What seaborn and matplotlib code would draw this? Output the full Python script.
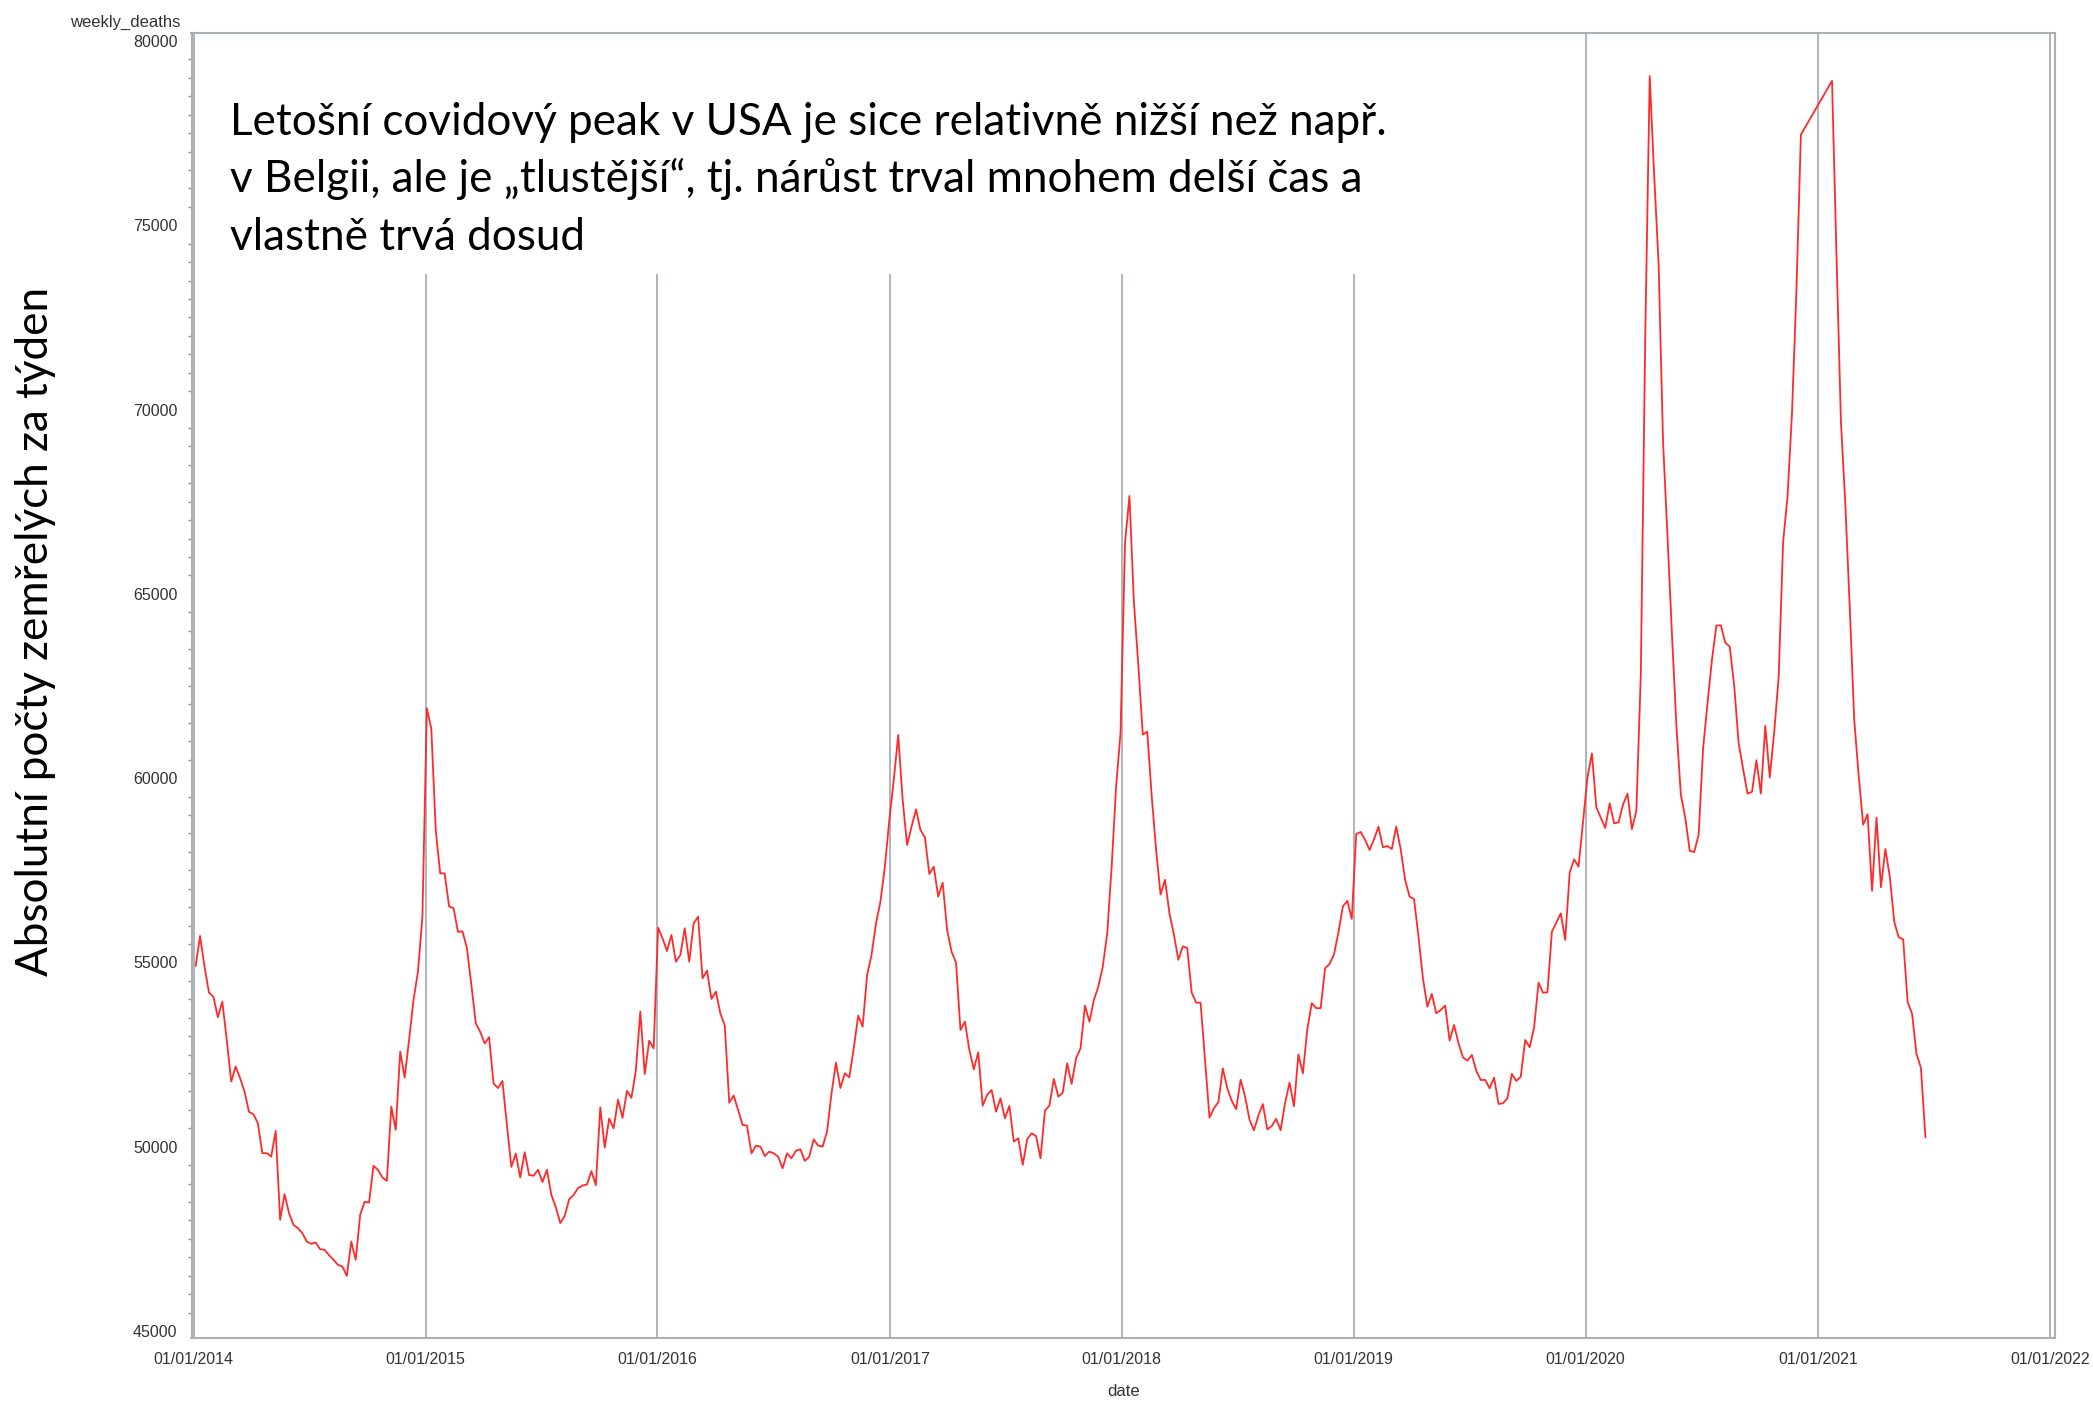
import numpy as np
import pandas as pd
import matplotlib
matplotlib.use("Agg")
import matplotlib.pyplot as plt
import matplotlib.dates as mdates
from matplotlib.ticker import MultipleLocator, FixedLocator
from matplotlib.patches import Rectangle
import seaborn as sns

# ---------------- data (weekly deaths) ----------------
start_2014 = "2014-01-04"
deaths_2014 = [54906, 55720, 54890, 54183, 54074, 53514, 53939, 52899, 51769, 52176,
               51860, 51498, 50947, 50883, 50639, 49826, 49826, 49735, 50431, 48018,
               48714, 48199, 47882, 47792, 47656, 47430, 47367, 47403, 47222, 47204,
               47059, 46933, 46797, 46752, 46499, 47430, 46933, 48154, 48506, 48488,
               49482, 49374, 49166, 49075, 51091, 50459, 52583, 51878, 52899, 53984,
               54752, 56244]
start_2015 = "2015-01-03"
deaths_2015 = [61898, 61346, 58587, 57417, 57417, 56522, 56475, 55828, 55847, 55400,
               54400, 53354, 53116, 52802, 52973, 51717, 51593, 51784, 50594, 49453,
               49814, 49167, 49852, 49233, 49215, 49376, 49043, 49376, 48691, 48359,
               47930, 48121, 48577, 48691, 48882, 48948, 48977, 49338, 48958, 51070,
               49976, 50766, 50499, 51280, 50785, 51517, 51327, 52069, 53668, 51974,
               52878, 52669]
start_2016 = "2016-01-02"
deaths_2016 = [55945, 55655, 55312, 55746, 55023, 55203, 55927, 55023, 56062, 56243,
               54570, 54778, 54010, 54209, 53621, 53286, 51197, 51387, 50998, 50591,
               50573, 49823, 50030, 50004, 49750, 49868, 49823, 49732, 49416, 49823,
               49687, 49895, 49931, 49615, 49732, 50202, 50030, 50004, 50411, 51450,
               52282, 51595, 51993, 51885, 52671, 53558, 53259, 54661, 55203, 56062,
               56650, 57600, 58866]
start_2017 = "2017-01-07"
deaths_2017 = [59951, 61172, 59409, 58188, 58685, 59155, 58595, 58396, 57401, 57600,
               56786, 57166, 55882, 55294, 54996, 53169, 53395, 52626, 52102, 52563,
               51116, 51406, 51541, 50954, 51315, 50773, 51107, 50140, 50230, 49507,
               50203, 50366, 50293, 49687, 50981, 51116, 51840, 51360, 51469, 52265,
               51704, 52400, 52672, 53829, 53395, 53983, 54345, 54887, 55791, 57600,
               59770, 61239]
start_2018 = "2018-01-06"
deaths_2018 = [66377, 67656, 64779, 63066, 61182, 61262, 59527, 58042, 56843, 57243,
               56330, 55759, 55073, 55439, 55393, 54183, 53909, 53909, 52333, 50792,
               51043, 51214, 52127, 51591, 51248, 51020, 51819, 51362, 50734, 50449,
               50849, 51157, 50472, 50563, 50757, 50449, 51191, 51740, 51100, 52504,
               51990, 53189, 53897, 53760, 53760, 54845, 54959, 55222, 55816, 56524,
               56672, 56181]
start_2019 = "2019-01-05"
deaths_2019 = [58487, 58541, 58324, 58053, 58342, 58686, 58125, 58161, 58080, 58686,
               58071, 57239, 56787, 56723, 55701, 54571, 53802, 54146, 53621, 53712,
               53829, 52880, 53305, 52808, 52428, 52337, 52491, 52066, 51813, 51813,
               51587, 51876, 51162, 51180, 51316, 51976, 51786, 51903, 52898, 52699,
               53233, 54454, 54182, 54191, 55837, 56081, 56334, 55611, 57438, 57799,
               57600, 58800]
start_2020 = "2020-01-04"
deaths_2020 = [60019, 60673, 59209, 58929, 58649, 59318, 58773, 58804, 59287, 59583,
               58618, 59116, 62822, 72010, 79049, 76370, 73957, 69129, 66559, 63912,
               61420, 59551, 58929, 58026, 57995, 58462, 60798, 62043, 63211, 64145,
               64145, 63678, 63569, 62510, 60953, 60252, 59583, 59630, 60486, 59583,
               61420, 60019, 61265, 62744, 66404, 67650, 69908, 73256, 77461]
start_2021 = "2021-01-23"
deaths_2021 = [78919, 74204, 69678, 67415, 64586, 61568, 60059, 58739, 59022, 56947,
               58927, 57041, 58079, 57324, 56099, 55684, 55627, 53930, 53609, 52515,
               52138, 50252]

y_ticks = [45000, 50000, 55000, 60000, 65000, 70000, 75000, 80000]
annotation_lines = ["Letošní covidový peak v USA je sice relativně nižší než např.",
                    "v Belgii, ale je \u201etlustější\u201c, tj. nárůst trval mnohem delší čas a",
                    "vlastně trvá dosud"]
y_title = "Absolutní počty zemřelých za týden"

segments = [(start_2014, deaths_2014), (start_2015, deaths_2015), (start_2016, deaths_2016),
            (start_2017, deaths_2017), (start_2018, deaths_2018), (start_2019, deaths_2019),
            (start_2020, deaths_2020), (start_2021, deaths_2021)]
frames = []
for start, vals in segments:
    frames.append(pd.DataFrame({"date": pd.date_range(start, periods=len(vals), freq="7D"),
                                "weekly_deaths": vals}))
df = pd.concat(frames, ignore_index=True)

# ---------------- figure ----------------
sns.set_style("white")
plt.rcParams["font.family"] = ["Liberation Sans", "DejaVu Sans"]

W, H = 2093, 1402
fig = plt.figure(figsize=(W / 100, H / 100), dpi=100)
ax_l, ax_r, ax_t, ax_b = 191.5, 2055, 33.3, 1337.7
ax = fig.add_axes([ax_l / W, 1 - ax_b / H, (ax_r - ax_l) / W, (ax_b - ax_t) / H])

sns.lineplot(data=df, x="date", y="weekly_deaths", ax=ax, color="#FF2A2A",
             linewidth=1.3, estimator=None, sort=False, zorder=3)

ax.set_xlim(pd.Timestamp("2013-12-28 12:00"), pd.Timestamp("2022-01-09"))
ax.set_ylim(44820, 80210)

ax.xaxis.set_major_locator(mdates.YearLocator())
ax.xaxis.set_major_formatter(mdates.DateFormatter("%m/%d/%Y"))
ax.yaxis.set_major_locator(FixedLocator(y_ticks))
ax.yaxis.set_minor_locator(MultipleLocator(500))

grid_col = "#A9AFB5"
ax.set_axisbelow(True)
ax.grid(True, axis="x", color=grid_col, linewidth=1.3)
ax.grid(False, axis="y")
for s in ax.spines.values():
    s.set_color(grid_col)
    s.set_linewidth(1.5)

ax.tick_params(axis="both", which="major", direction="out", length=5, width=1.1,
               color="#8A9096", labelsize=11.5, labelcolor="#333333")
ax.tick_params(axis="x", which="major", pad=5)
ax.tick_params(axis="y", which="major", pad=5)
ax.tick_params(axis="y", which="minor", direction="out", length=3, width=1, color="#8A9096", left=True)
ax.tick_params(axis="x", which="minor", bottom=False)

ax.set_xlabel("")
ax.set_ylabel("")

# white box behind annotation (covers the upper part of the grid lines)
ax.add_patch(Rectangle((0.05, (ax_b - 274) / (ax_b - ax_t)), 0.66, 0.25,
                       transform=ax.transAxes, facecolor="white", edgecolor="none", zorder=1))

# SAS-style axis labels
fig.text(180 / W, 1 - 22.5 / H, "weekly_deaths", ha="right", va="center",
         fontsize=12, color="#333333")
fig.text((ax_l + ax_r) / 2 / W, 1 - 1392 / H, "date", ha="center", va="center",
         fontsize=12, color="#333333")

# big annotation
ann_font = ["Lato", "DejaVu Sans"]
for i, line in enumerate(annotation_lines):
    fig.text(230 / W, 1 - (135 + 57.4 * i) / H, line, ha="left", va="baseline",
             fontsize=31.7, family=ann_font, color="black")

fig.text(36 / W, 1 - 631 / H, y_title, rotation=90, ha="center", va="center",
         fontsize=31.7, family=ann_font, color="black")

fig.savefig("out.png", dpi=100)
